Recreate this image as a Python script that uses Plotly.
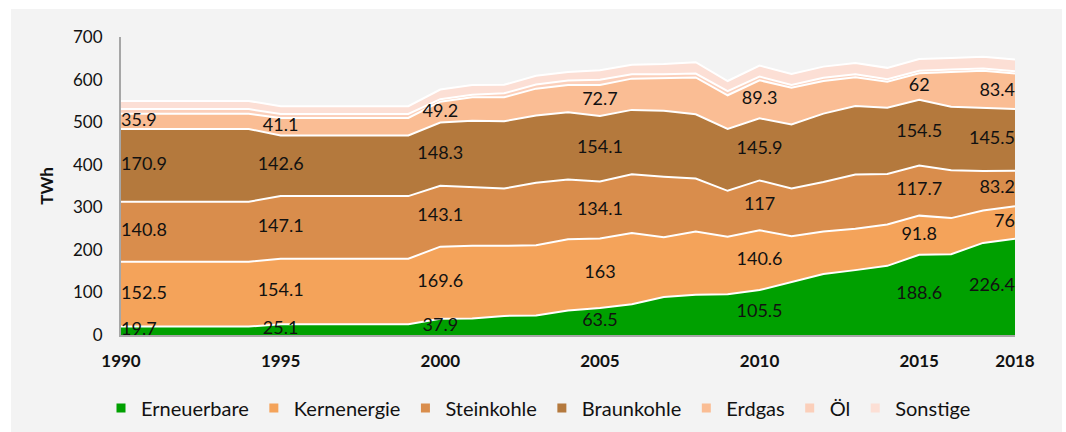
import plotly.graph_objects as go

years = list(range(1990, 2019))

erneuerbare = [19.7, 19.7, 19.7, 19.7, 19.7, 25.1, 25.1, 25.1, 25.1, 25.1,
               37.9, 38.5, 44.8, 46.0, 57.6, 63.5, 72.5, 89.4, 94.3, 95.9,
               105.5, 124.0, 143.5, 152.4, 162.5, 188.6, 189.7, 216.3, 226.4]
kernenergie = [152.5, 152.5, 152.5, 152.5, 152.5, 154.1, 154.1, 154.1, 154.1, 154.1,
               169.6, 171.3, 164.8, 165.1, 167.1, 163.0, 167.3, 140.5, 148.8, 134.9,
               140.6, 108.0, 99.5, 97.3, 97.1, 91.8, 84.9, 76.3, 76.0]
steinkohle = [140.8, 140.8, 140.8, 140.8, 140.8, 147.1, 147.1, 147.1, 147.1, 147.1,
              143.1, 138.4, 134.6, 146.5, 140.8, 134.1, 137.9, 142.0, 124.6, 107.9,
              117.0, 112.4, 116.4, 127.3, 118.6, 117.7, 112.2, 92.9, 83.2]
braunkohle = [170.9, 170.9, 170.9, 170.9, 170.9, 142.6, 142.6, 142.6, 142.6, 142.6,
              148.3, 154.8, 158.0, 158.2, 158.0, 154.1, 151.1, 155.1, 150.6, 145.6,
              145.9, 150.1, 160.7, 160.9, 155.8, 154.5, 149.5, 148.4, 145.5]
erdgas = [35.9, 35.9, 35.9, 35.9, 35.9, 41.1, 41.1, 41.1, 41.1, 41.1,
          49.2, 55.5, 56.3, 62.9, 63.9, 72.7, 73.4, 75.9, 86.7, 78.8,
          89.3, 86.1, 76.4, 67.5, 61.1, 62.0, 81.3, 86.7, 83.4]
oel = [10.8, 10.8, 10.8, 10.8, 10.8, 9.1, 9.1, 9.1, 9.1, 9.1,
       5.9, 5.8, 9.2, 9.9, 10.3, 12.0, 10.5, 9.6, 9.2, 9.6,
       8.7, 6.8, 7.6, 7.2, 5.7, 6.2, 5.8, 5.6, 5.2]
sonstige = [19.3, 19.3, 19.3, 19.3, 19.3, 18.3, 18.3, 18.3, 18.3, 18.3,
            22.6, 22.8, 20.1, 20.3, 19.8, 22.4, 22.3, 24.0, 26.6, 23.9,
            26.0, 25.6, 26.3, 26.1, 26.7, 27.3, 27.3, 27.5, 27.3]

series_names = ["Erneuerbare", "Kernenergie", "Steinkohle", "Braunkohle", "Erdgas", "Öl", "Sonstige"]
series_values = [erneuerbare, kernenergie, steinkohle, braunkohle, erdgas, oel, sonstige]
series_colors = ["#00A000", "#F4A35A", "#D98D4C", "#B4793D", "#FABD94", "#FBCFBA", "#FCDFD5"]
labeled_series = 5  # first five series carry data labels

label_years = [1990, 1995, 2000, 2005, 2010, 2015, 2018]
tick_vals = [1990, 1995, 2000, 2005, 2010, 2015, 2018]
tick_text = ["1990", "1995", "2000", "2005", "2010", "2015", "2018"]
y_ticks = [0, 100, 200, 300, 400, 500, 600, 700]

FONT = "Lato"
BG = "#F3F3F3"
INK = "#111111"

fig = go.Figure()

# stacked areas
for name, vals, col in zip(series_names, series_values, series_colors):
    fig.add_trace(go.Scatter(
        x=years, y=vals, name=name, stackgroup="one", mode="lines",
        line=dict(color="white", width=2), fillcolor=col,
        showlegend=False, hoverinfo="x+y+name"))

# data labels at the middle of each band
base = [0.0] * len(years)
for idx in range(labeled_series):
    vals = series_values[idx]
    xs, ys, ts, pos = [], [], [], []
    for yr in label_years:
        i = years.index(yr)
        xs.append(yr)
        ys.append(base[i] + vals[i] / 2)
        ts.append(f"{vals[i]:g}")
        if yr == years[0]:
            pos.append("middle right")
        elif yr == years[-1]:
            pos.append("middle left")
        else:
            pos.append("middle center")
    fig.add_trace(go.Scatter(
        x=xs, y=ys, text=ts, mode="text", textposition=pos,
        textfont=dict(family=FONT, size=18, color=INK),
        showlegend=False, hoverinfo="skip", cliponaxis=False))
    base = [b + v for b, v in zip(base, vals)]

# legend entries with square symbols
for name, col in zip(series_names, series_colors):
    fig.add_trace(go.Scatter(
        x=[None], y=[None], mode="markers", name=name,
        marker=dict(symbol="square", size=9, color=col),
        showlegend=True))

W, H = 1066, 432
L, R, T, B = 121, 51, 37, 97
pw, ph = W - L - R, H - T - B

fig.update_layout(
    width=W, height=H,
    margin=dict(l=L, r=R, t=T, b=B, autoexpand=False),
    paper_bgcolor="white",
    plot_bgcolor=BG,
    font=dict(family=FONT, size=17, color=INK),
    showlegend=True,
    legend=dict(orientation="h", x=(101 - L) / pw, xanchor="left",
                y=(H - B - 408) / ph, yanchor="middle",
                font=dict(family=FONT, size=20, color=INK),
                bgcolor="rgba(0,0,0,0)", itemwidth=30, traceorder="normal"),
    shapes=[dict(type="rect", xref="paper", yref="paper", layer="below",
                 x0=(11 - L) / pw, x1=(1062 - L) / pw,
                 y0=(H - B - 440) / ph, y1=(H - B - 9) / ph,
                 fillcolor=BG, line=dict(width=0))],
    xaxis=dict(range=[1990, 2018], tickvals=tick_vals, ticktext=tick_text,
               showgrid=False, zeroline=False, showline=True,
               linecolor="#A6A6A6", linewidth=2, ticks="",
               ticklabelstandoff=10, automargin=False,
               tickfont=dict(family=FONT, size=17, color=INK, weight="bold")),
    yaxis=dict(range=[0, 700], tickvals=y_ticks, showgrid=False, zeroline=False,
               showline=True, linecolor="#A6A6A6", linewidth=2, ticks="",
               ticklabelstandoff=13, automargin=False,
               tickfont=dict(family=FONT, size=17, color=INK),
               title=dict(text="<b>TWh</b>", standoff=15,
                          font=dict(family=FONT, size=17, color=INK))),
)

fig.write_html("out.html", config={"displayModeBar": False},
               post_script="document.body.style.margin='0px';")
